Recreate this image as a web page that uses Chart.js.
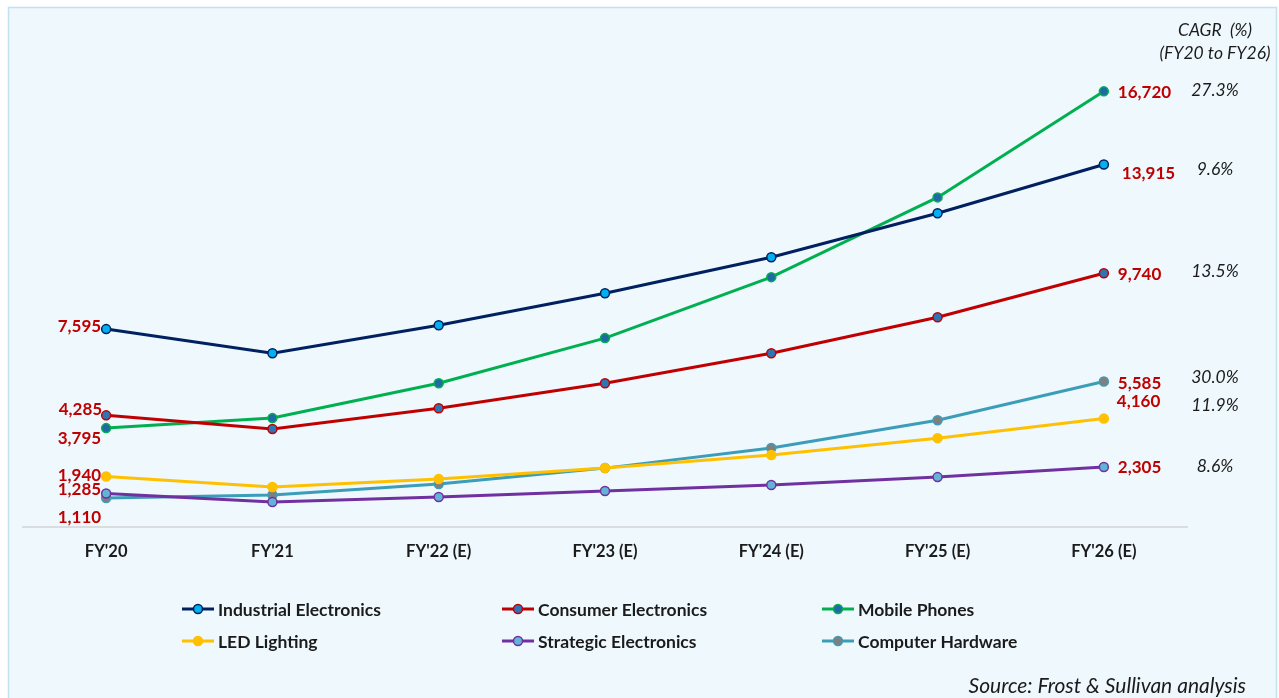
<!DOCTYPE html>
<html>
<head>
<meta charset="utf-8">
<script src="https://cdn.jsdelivr.net/npm/chart.js@4.4.1/dist/chart.umd.min.js"></script>
<style>
  html, body { margin: 0; padding: 0; background: #ffffff; }
  #wrap { width: 1279px; height: 698px; position: relative; }
</style>
</head>
<body>
<div id="wrap"><canvas id="c" width="1279" height="698"></canvas></div>
<script>
// Market size by segment (INR crore), FY'20 to FY'26 (E)
const years = ["FY'20", "FY'21", "FY'22 (E)", "FY'23 (E)", "FY'24 (E)", "FY'25 (E)", "FY'26 (E)"];
const seriesNames = ["Industrial Electronics", "Consumer Electronics", "Mobile Phones", "LED Lighting", "Strategic Electronics", "Computer Hardware"];
const industrial = [7595, 6670, 7745, 8970, 10350, 12040, 13915];
const consumer   = [4285, 3760, 4560, 5520, 6670, 8050, 9740];
const mobile     = [3795, 4180, 5520, 7250, 9590, 12650, 16720];
const led        = [1940, 1535, 1840, 2260, 2760, 3410, 4160];
const strategic  = [1285, 960, 1150, 1380, 1610, 1915, 2305];
const hardware   = [1110, 1225, 1650, 2260, 3030, 4100, 5585];
const cagrLabels = ["9.6%", "13.5%", "27.3%", "11.9%", "8.6%", "30.0%"];
const cagrTitle = ["CAGR  (%)", "(FY20 to FY26)"];
const sourceNote = "Source: Frost & Sullivan analysis";

const FONT = "Lato, 'Open Sans', sans-serif";
const LABEL_RED = "#C00000";
const TEXT_DARK = "#1b1b1b";

const styles = [
  { line: "#002060", fill: "#00B0F0" },
  { line: "#C00000", fill: "#2E75B6" },
  { line: "#00B050", fill: "#1F6AA5" },
  { line: "#FFC000", fill: "#FFC000" },
  { line: "#7030A0", fill: "#62B4D6" },
  { line: "#3C9DB8", fill: "#7F7F7F" }
];
const values = [industrial, consumer, mobile, led, strategic, hardware];

// label offsets (px) from the first / last point of each line
const startOffsets = [[-5, -3], [-4, -6], [-5, 10], [-5, -1], [-5, -4], [-5, 19]];
const endOffsets   = [[18, 9], [14, 1], [14, 1], [13, -17], [14, 1], [14, 2]];
const cagrOffsets  = [5, -2, -1, -13, -1, -4];

const fmt = v => v.toLocaleString("en-US");

const datasets = values.map((vals, i) => ({
  label: seriesNames[i],
  data: vals,
  borderColor: styles[i].line,
  backgroundColor: styles[i].fill,
  pointBackgroundColor: styles[i].fill,
  pointBorderColor: styles[i].line,
  pointBorderWidth: 1.5,
  pointRadius: 4.5,
  borderWidth: 3,
  tension: 0,
  fill: false
}));

const framePlugin = {
  id: "frame",
  beforeDraw(chart) {
    const ctx = chart.ctx;
    ctx.save();
    ctx.fillStyle = "#EEF8FD";
    ctx.fillRect(8.5, 7.5, 1268, 700);
    ctx.strokeStyle = "#C4E0F1";
    ctx.lineWidth = 1.5;
    ctx.strokeRect(8.5, 7.5, 1268, 700);
    ctx.restore();
  }
};

const annotatePlugin = {
  id: "annotate",
  afterDatasetsDraw(chart) {
    const ctx = chart.ctx;
    const area = chart.chartArea;
    ctx.save();
    ctx.font = "bold 17px " + FONT;
    ctx.fillStyle = LABEL_RED;
    ctx.textBaseline = "middle";
    chart.data.datasets.forEach((ds, i) => {
      const meta = chart.getDatasetMeta(i);
      const first = meta.data[0];
      const last = meta.data[meta.data.length - 1];
      ctx.textAlign = "right";
      ctx.fillText(fmt(ds.data[0]), first.x + startOffsets[i][0], first.y + startOffsets[i][1]);
      ctx.textAlign = "left";
      ctx.fillText(fmt(ds.data[ds.data.length - 1]), last.x + endOffsets[i][0], last.y + endOffsets[i][1]);
    });

    // CAGR column
    const cx = area.right + 28;
    ctx.font = "italic 17.5px " + FONT;
    ctx.fillStyle = TEXT_DARK;
    ctx.textAlign = "center";
    ctx.fillText(cagrTitle[0], cx, 30);
    ctx.fillText(cagrTitle[1], cx, 53);
    chart.data.datasets.forEach((ds, i) => {
      const meta = chart.getDatasetMeta(i);
      const last = meta.data[meta.data.length - 1];
      ctx.fillText(cagrLabels[i], cx, last.y + cagrOffsets[i]);
    });

    // legend: three columns, two rows
    const colX = [182, 502, 822];
    const rowY = [609, 641];
    chart.data.datasets.forEach((ds, i) => {
      const x = colX[i % 3];
      const y = rowY[Math.floor(i / 3)];
      ctx.strokeStyle = ds.borderColor;
      ctx.lineWidth = 3;
      ctx.beginPath();
      ctx.moveTo(x, y);
      ctx.lineTo(x + 32, y);
      ctx.stroke();
      ctx.beginPath();
      ctx.arc(x + 16, y, 4.5, 0, Math.PI * 2);
      ctx.fillStyle = ds.pointBackgroundColor;
      ctx.fill();
      ctx.lineWidth = 1.5;
      ctx.strokeStyle = ds.pointBorderColor;
      ctx.stroke();
      ctx.font = "bold 17.5px " + FONT;
      ctx.fillStyle = TEXT_DARK;
      ctx.textAlign = "left";
      ctx.fillText(ds.label, x + 36, y + 1);
    });

    // source note
    ctx.font = "italic 21px " + FONT;
    ctx.fillStyle = TEXT_DARK;
    ctx.textAlign = "right";
    ctx.fillText(sourceNote, 1246, 686);
    ctx.restore();
  }
};

new Chart(document.getElementById("c"), {
  type: "line",
  data: { labels: years, datasets },
  options: {
    responsive: false,
    animation: false,
    devicePixelRatio: 1,
    events: [],
    layout: { padding: { left: 23, right: 92, top: 58, bottom: 121 } },
    plugins: { legend: { display: false }, tooltip: { enabled: false } },
    scales: {
      x: {
        offset: true,
        grid: { display: false, drawTicks: false },
        border: { display: true, color: "#DADDDF", width: 2 },
        ticks: {
          padding: 15,
          color: TEXT_DARK,
          font: { family: FONT, size: 16.5, weight: "bold" },
          maxRotation: 0,
          autoSkip: false
        },
        afterFit(scale) { scale.height = 50; }
      },
      y: {
        display: false,
        min: 0,
        max: 18000
      }
    }
  },
  plugins: [framePlugin, annotatePlugin]
});
</script>
</body>
</html>
